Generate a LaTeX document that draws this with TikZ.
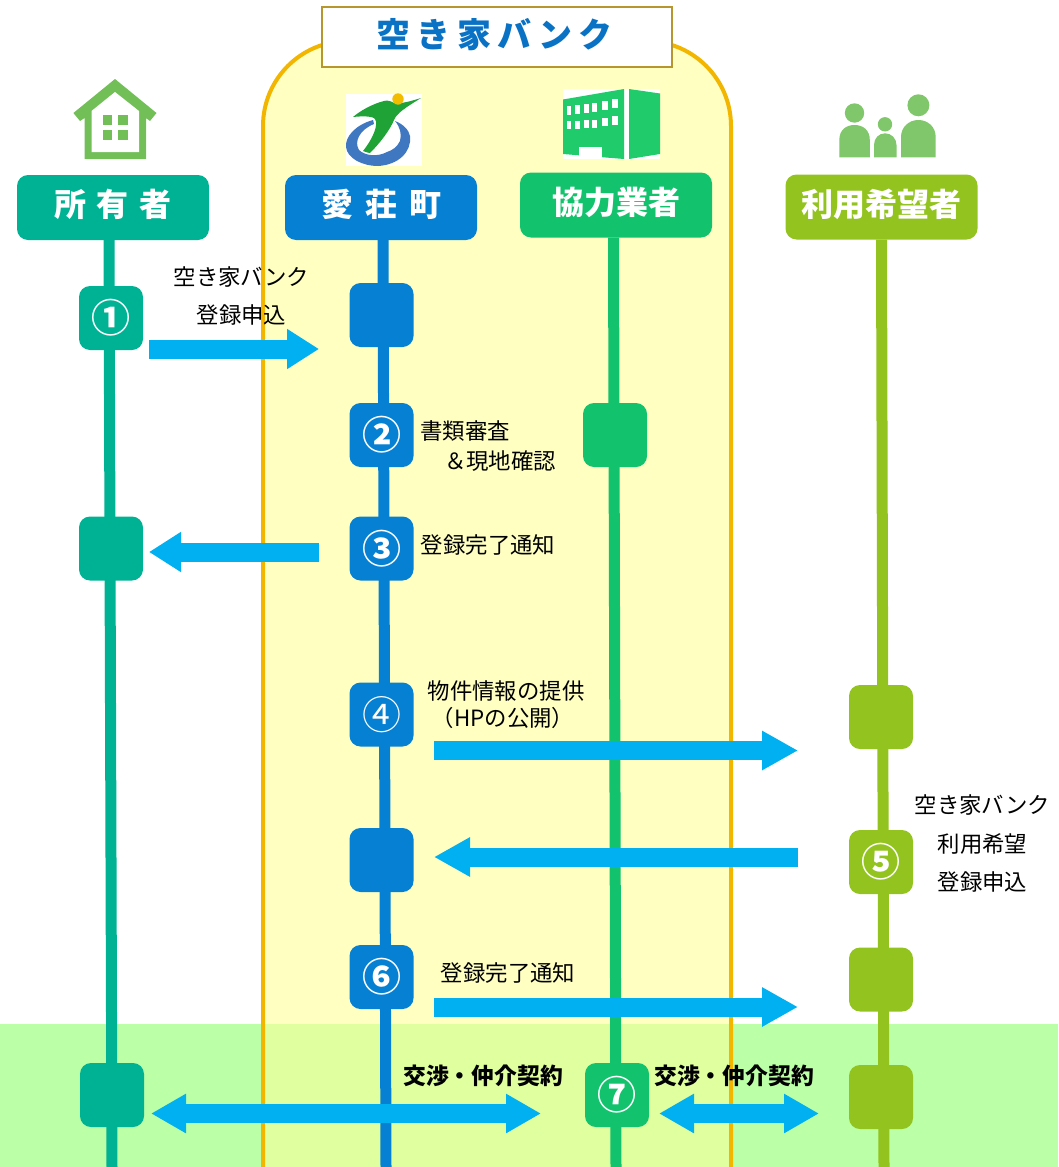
\documentclass[tikz,border=0pt]{standalone}
\usepackage{fontspec}
\setmainfont{Noto Sans CJK JP}
\usetikzlibrary{arrows.meta}
\definecolor{cowner}{HTML}{00B294}
\definecolor{ctown}{HTML}{0580D3}
\definecolor{cpartner}{HTML}{12C26D}
\definecolor{cuser}{HTML}{92C31E}
\definecolor{cpanel}{HTML}{FFFFC2}
\definecolor{cpanelline}{HTML}{F2B500}
\definecolor{cband}{HTML}{BBFFA6}
\definecolor{cbandpanel}{HTML}{E0FF9E}
\definecolor{carrow}{HTML}{00B0F0}
\definecolor{ctitle}{HTML}{0A72C4}
\definecolor{ctitleline}{HTML}{B8962E}
\definecolor{chouse}{HTML}{72BF58}
\definecolor{cpeople}{HTML}{80C66A}
\definecolor{clogogreen}{HTML}{1FA336}
\definecolor{clogoblue}{HTML}{3F78C1}
\definecolor{clogosun}{HTML}{F2BC00}
\definecolor{cbuilding}{HTML}{1FCB6B}
\pgfdeclarelayer{panel}
\pgfdeclarelayer{lines}
\pgfsetlayers{panel,lines,main}
\tikzset{
  header/.style={rounded corners=11pt,minimum width=192pt,minimum height=65pt,inner sep=0pt,text=white,font=\fontsize{32}{36}\selectfont\bfseries,fill=#1},
  stepbox/.style={rounded corners=11pt,minimum width=64pt,minimum height=64pt,inner sep=0pt,text=white,font=\fontsize{39}{40}\selectfont\bfseries,fill=#1},
  lifeline/.style={line width=11pt,draw=#1},
  label/.style={inner sep=0pt,text=black,font=\fontsize{22.4}{26}\selectfont},
  boldlabel/.style={inner sep=0pt,text=black,font=\fontsize{22.8}{26}\selectfont\bfseries},
  flow/.style={line width=19pt,draw=carrow,-{Triangle[length=32pt,width=38pt]}},
  flowlong/.style={line width=19pt,draw=carrow,-{Triangle[length=36pt,width=37pt]}},
  flowboth/.style={line width=19pt,draw=carrow,{Triangle[length=35pt,width=37pt]}-{Triangle[length=35pt,width=37pt]}},
}
\begin{document}
\begin{tikzpicture}[x=1pt,y=-1pt]
\useasboundingbox (0,0) rectangle (1058,1167);
% panel and band
\begin{pgfonlayer}{panel}
\fill[cband] (0,1024) rectangle (1058,1167);
\fill[cpanel,rounded corners=85pt] (263,1300) -- (263,41) -- (731,41) -- (731,1300) -- cycle;
\fill[cbandpanel] (263,1024) rectangle (731,1167);
\draw[cpanelline,line width=4pt,rounded corners=85pt] (263,1300) -- (263,41) -- (731,41) -- (731,1300);
\end{pgfonlayer}
% title
\node[draw=ctitleline,line width=1.4pt,fill=white,minimum width=350pt,minimum height=60pt,inner sep=0pt,text=ctitle,font=\fontsize{34}{38}\selectfont\bfseries] (title) at (497,37) {\raisebox{8pt}{空\hspace{6.5pt}き\hspace{6.5pt}家\hspace{6.5pt}バ\hspace{6.5pt}ン\hspace{6.5pt}ク\hspace{5pt}}};
% headers
\node[header=cowner] (owner) at (113,207.5) {\raisebox{9pt}{所\hspace{11pt}有\hspace{11pt}者}};
\node[header=ctown] (town) at (381,207.5) {\raisebox{9pt}{愛\hspace{12pt}荘\hspace{12pt}町}};
\node[header=cpartner] (partner) at (616,205) {\raisebox{9pt}{協力業者}};
\node[header=cuser] (user) at (881.5,207) {\raisebox{8pt}{利用希望者}};
% life line ends
\coordinate (ownerEnd) at (112,1167);
\coordinate (townEnd) at (386,1167);
\coordinate (partnerEnd) at (616,1167);
\coordinate (userEnd) at (884,1167);
\begin{pgfonlayer}{lines}
\draw[lifeline=cowner] ([xshift=-4pt]owner.south) -- (ownerEnd);
\draw[lifeline=ctown] ([xshift=2pt]town.south) -- (townEnd);
\draw[lifeline=cpartner] ([xshift=-2.5pt]partner.south) -- (partnerEnd);
\draw[lifeline=cuser] (user.south) -- (userEnd);
\end{pgfonlayer}
% step boxes
\node[stepbox=cowner] (o1) at (111,318) {①};
\node[stepbox=cowner] (o3) at (111,548.5) {};
\node[stepbox=cowner] (o7) at (112,1095) {};
\node[stepbox=ctown] (t1) at (381.5,315) {};
\node[stepbox=ctown] (t2) at (381.5,435) {②};
\node[stepbox=ctown] (t3) at (381.5,548.5) {③};
\node[stepbox=ctown,font=\fontsize{39}{40}\selectfont\mdseries] (t4) at (381.5,714.5) {④};
\node[stepbox=ctown] (t5) at (381.5,860) {};
\node[stepbox=ctown] (t6) at (381.5,977) {⑥};
\node[stepbox=cpartner] (p2) at (615,435) {};
\node[stepbox=cpartner] (p7) at (617,1095) {⑦};
\node[stepbox=cuser] (u4) at (881,717) {};
\node[stepbox=cuser] (u5) at (881,862) {⑤};
\node[stepbox=cuser] (u6) at (881,979.5) {};
\node[stepbox=cuser] (u7) at (881,1097) {};
% arrow ends
\coordinate (a1s) at (149,349); \coordinate (a1e) at (319,349);
\coordinate (a2s) at (319,552); \coordinate (a2e) at (149,552);
\coordinate (a3s) at (434,750.5); \coordinate (a3e) at (798,750.5);
\coordinate (a4s) at (798,857); \coordinate (a4e) at (434,857);
\coordinate (a5s) at (434,1007); \coordinate (a5e) at (798,1007);
\coordinate (a6s) at (151,1113.5); \coordinate (a6e) at (541,1113.5);
\coordinate (a7s) at (659,1113.5); \coordinate (a7e) at (819,1113.5);
\draw[flow] (a1s) -- (a1e);
\draw[flow] (a2s) -- (a2e);
\draw[flowlong] (a3s) -- (a3e);
\draw[flowlong] (a4s) -- (a4e);
\draw[flowlong] (a5s) -- (a5e);
\draw[flowboth] (a6s) -- (a6e);
\draw[flowboth] (a7s) -- (a7e);
% labels
\node[label] (l1a) at (241.5,277) {空き家バンク};
\node[label] (l1b) at (241.5,315) {登録申込};
\node[label] (l2a) at (465,431) {書類審査};
\node[label] (l2b) at (500,461) {＆現地確認};
\node[label] (l3) at (488,545) {登録完了通知};
\node[label] (l4a) at (506,691) {物件情報の提供};
\node[label] (l4b) at (503,718) {（HPの公開）};
\node[label] (l5a) at (982.5,805) {空き家バンク};
\node[label] (l5b) at (982.5,844) {利用希望};
\node[label] (l5c) at (982.5,882) {登録申込};
\node[label] (l6) at (508,973) {登録完了通知};
\node[boldlabel] (l7a) at (483,1076) {交渉・仲介契約};
\node[boldlabel] (l7b) at (734,1076) {交渉・仲介契約};
% house icon
\fill[chouse] (115,79) -- (156.5,113) -- (150,121) -- (146,118) -- (146,159) -- (84.5,159) -- (84.5,118) -- (80,121) -- (73.4,113) -- cycle;
\fill[white] (115,92) -- (139,111) -- (139,152) -- (91.5,152) -- (91.5,111) -- cycle;
\fill[chouse] (102.8,115) rectangle (112,125);
\fill[chouse] (117.6,115) rectangle (127.8,125);
\fill[chouse] (102.8,130) rectangle (112,140);
\fill[chouse] (117.6,130) rectangle (127.8,140);
% logo icon
\fill[white] (346,94) rectangle (422,166);
\fill[clogoblue,even odd rule] (373,120) .. controls (355,125) and (345,137) .. (346,147) .. controls (347,158) and (362,166) .. (378,166) .. controls (398,165) and (412,152) .. (410,136) .. controls (409,130) and (403,124) .. (395,121) .. controls (400,127) and (402,134) .. (400,141) .. controls (397,147) and (393,150) .. (387,152) .. controls (378,157) and (365,156) .. (359,150) .. controls (354,142) and (359,130) .. (374,124) -- cycle;
\fill[clogogreen] (421,98) .. controls (411,101) and (402,104) .. (394,103) .. controls (391,101) and (387,100) .. (384,101) .. controls (372,104) and (360,111) .. (353,117) .. controls (362,116) and (373,116) .. (375,119) .. controls (379,125) and (372,140) .. (363,151) .. controls (366,152) and (368,153) .. (370,153) .. controls (380,143) and (390,130) .. (394,120) .. controls (397,113) and (405,108) .. (421,98) -- cycle;
\fill[clogosun] (398,99) circle (5.7);
% building icon
\fill[white] (563,89) rectangle (660,159);
\fill[cbuilding] (563,99.5) -- (624,89) -- (624,159) -- (563,154) -- cycle;
\fill[cbuilding] (629,89) -- (660,93.5) -- (660,154) -- (629,159) -- cycle;
\fill[white] (579.4,147) rectangle (601.7,158);
\foreach \wx/\wt/\wo/\ww in {567/106/115/4,575/105/114/4.5,583.5/104/113/5,592/103/112/5,601.5/101/110/6,612/99/108/6}{
  \fill[white] (\wx,\wt) rectangle (\wx+\ww,\wo);
}
\foreach \wx/\wt/\wo/\ww in {567/121/129/4,575/120.5/128.5/4.5,583.5/120/128/5,592/119.5/127.5/5,601.5/118/126/6,612/116/125/6}{
  \fill[white] (\wx,\wt) rectangle (\wx+\ww,\wo);
}
% people icon
\fill[cpeople] (854.5,113) circle (9.7);
\fill[cpeople] (839.3,157.3) -- (839.3,140) .. controls (839.3,130) and (846,125) .. (854.5,125) .. controls (863,125) and (869.8,130) .. (869.8,140) -- (869.8,157.3) -- cycle;
\fill[cpeople] (885,124.3) circle (7.2);
\fill[cpeople] (874,157.3) -- (874,145) .. controls (874,138) and (879,133.3) .. (885,133.3) .. controls (891,133.3) and (896.5,138) .. (896.5,145) -- (896.5,157.3) -- cycle;
\fill[cpeople] (918.4,105.3) circle (11);
\fill[cpeople] (901,157.3) -- (901,137) .. controls (901,127) and (909,120) .. (918.4,120) .. controls (928,120) and (935.7,127) .. (935.7,137) -- (935.7,157.3) -- cycle;
\end{tikzpicture}
\end{document}
